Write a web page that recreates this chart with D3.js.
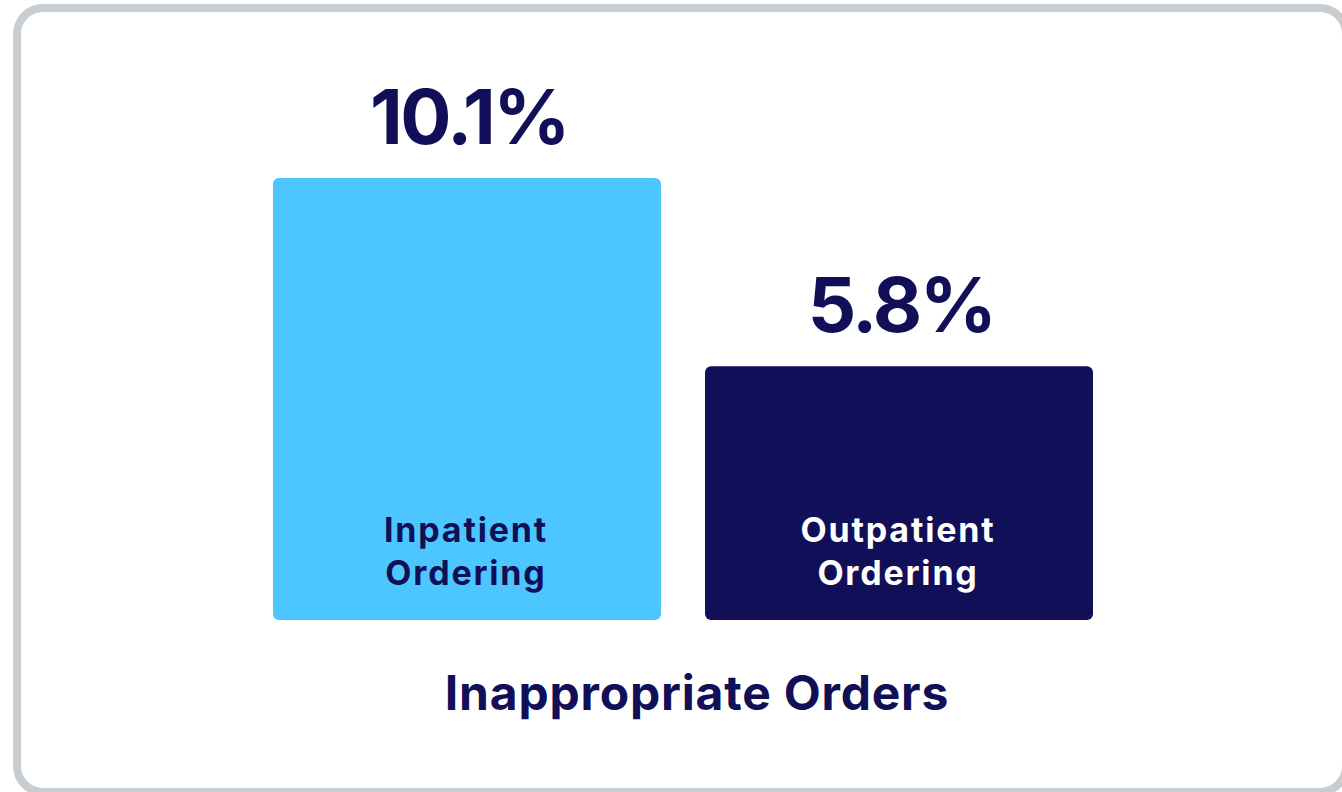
<!DOCTYPE html>
<meta charset="utf-8">
<style>
body {
  margin: 0;
  background: #fff;
  overflow: hidden;
}
text {
  font-family: Inter, Lato, sans-serif;
  font-weight: 700;
}
</style>
<body>
<div id="main"></div>
<script src="https://d3js.org/d3.v7.min.js"></script>
<script>

// chart data
var categories = ["Inpatient Ordering", "Outpatient Ordering"];
var values = [10.1, 5.8];
var valueLabels = ["10.1%", "5.8%"];
var barColors = ["#4dc5ff", "#100f57"];
var labelColors = ["#100f57", "#ffffff"];
var title = "Inappropriate Orders";

var width = 1342,
    height = 792;

var svg = d3.select("#main").append("svg")
    .attr("width", width)
    .attr("height", height);

// card outline
svg.append("rect")
    .attr("x", 17)
    .attr("y", 8)
    .attr("width", 1329)
    .attr("height", 784)
    .attr("rx", 26)
    .attr("fill", "#fff")
    .attr("stroke", "#c8cdd1")
    .attr("stroke-width", 8);

// scales
var x = d3.scaleBand()
    .domain(categories)
    .range([273, 1093])
    .paddingInner(0.102)
    .paddingOuter(0);

var y = d3.scaleLinear()
    .domain([0, 10.1])
    .range([620, 178]);

var bars = svg.selectAll(".bar")
    .data(categories)
  .enter().append("g")
    .attr("class", "bar");

bars.append("rect")
    .attr("x", d => x(d))
    .attr("y", (d, i) => y(values[i]))
    .attr("width", x.bandwidth())
    .attr("height", (d, i) => y(0) - y(values[i]))
    .attr("rx", 6)
    .attr("fill", (d, i) => barColors[i]);

// value on top (letter-spacing leaves a trailing gap, so nudge by half of it)
bars.append("text")
    .attr("x", d => x(d) + x.bandwidth() / 2 + 2)
    .attr("y", (d, i) => y(values[i]) - 34)
    .attr("text-anchor", "middle")
    .attr("font-size", 76)
    .attr("letter-spacing", -2.5)
    .attr("fill", "#100f57")
    .text((d, i) => valueLabels[i]);

// category name inside bar, two lines
bars.append("text")
    .attr("x", d => x(d) + x.bandwidth() / 2 - 1)
    .attr("y", 542)
    .attr("text-anchor", "middle")
    .attr("font-size", 34)
    .attr("letter-spacing", 1.8)
    .attr("fill", (d, i) => labelColors[i])
  .selectAll("tspan")
    .data(d => d.split(" "))
  .enter().append("tspan")
    .attr("x", function() { return this.parentNode.getAttribute("x"); })
    .attr("dy", (d, i) => i ? 43 : 0)
    .text(d => d);

svg.append("text")
    .attr("x", 697)
    .attr("y", 710)
    .attr("text-anchor", "middle")
    .attr("font-size", 48)
    .attr("letter-spacing", 0.8)
    .attr("fill", "#100f57")
    .text(title);

</script>
</body>
